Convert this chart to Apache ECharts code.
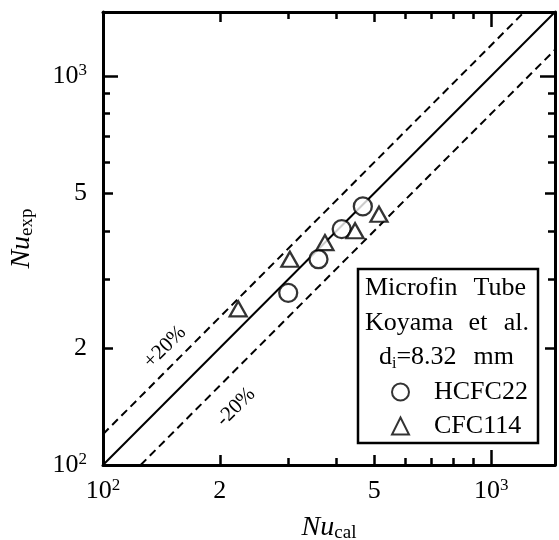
<!DOCTYPE html>
<html>
<head>
<meta charset="utf-8">
<script src="https://cdn.jsdelivr.net/npm/echarts@6/dist/echarts.min.js"></script>
<style>
  html, body { margin: 0; padding: 0; background: #fff; }
  #chart { width: 559px; height: 540px; }
</style>
</head>
<body>
<div id="chart"></div>
<script>
// Axis range (both axes share it, so the 1:1 line runs corner to corner)
const axisMin = 100;
const axisMax = 1460;

// Measured vs. calculated Nusselt numbers
const hcfc22Cal = [300, 359, 412, 467];
const hcfc22Exp = [277, 338, 404, 462];
const cfc114Cal = [223, 303, 373, 446, 514];
const cfc114Exp = [252, 338, 373, 400, 441];

// Tick layout on the log axes
const labelValues = [100, 200, 500, 1000];
const labelTexts = ['{b|10}{s|2}', '{b|2}', '{b|5}', '{b|10}{s|3}'];
const minorTicks = [100, 200, 300, 400, 500, 600, 700, 800, 900, 1000];
const midTicks = [200, 500];
const majorTicks = [100, 1000];

// Deviation bands around the 1:1 line
const bandRatios = [1.2, 0.8];
const bandTexts = ['+20%', '-20%'];

const FONT = 'Liberation Serif';

function pairs(xs, ys) { return xs.map((x, i) => [x, ys[i]]); }

function tickAxis(position, ticks, len, withLine, labelMargin) {
  const ax = {
    type: 'log',
    logBase: 10,
    min: axisMin,
    max: axisMax,
    position: position,
    splitLine: { show: false },
    axisLine: { show: withLine, onZero: false, lineStyle: { color: '#000', width: 3 } },
    axisTick: { show: true, inside: true, length: len, customValues: ticks,
                lineStyle: { color: '#000', width: 2.5 } },
    axisLabel: { show: false }
  };
  if (labelMargin) {
    ax.axisLabel = {
      show: true,
      customValues: labelValues,
      margin: labelMargin,
      color: '#000',
      fontFamily: FONT,
      formatter: v => labelTexts[labelValues.indexOf(Math.round(v))] || '',
      rich: {
        b: { fontFamily: FONT, fontSize: 26, color: '#000', lineHeight: 28 },
        s: { fontFamily: FONT, fontSize: 17, color: '#000', verticalAlign: 'top', lineHeight: 28 }
      }
    };
  }
  return ax;
}

const nameRich = {
  it: { fontFamily: FONT, fontStyle: 'italic', fontSize: 28, color: '#000', lineHeight: 30 },
  sub: { fontFamily: FONT, fontSize: 19, color: '#000', verticalAlign: 'bottom', lineHeight: 30 }
};

const xAxes = [
  Object.assign(tickAxis('bottom', minorTicks, 7, true, 12), {
    name: '{it|Nu}{sub|cal}',
    nameLocation: 'middle',
    nameGap: 48,
    nameTextStyle: { rich: nameRich }
  }),
  tickAxis('bottom', midTicks, 10, false, 0),
  tickAxis('bottom', majorTicks, 15, false, 0),
  tickAxis('top', minorTicks, 7, true, 0),
  tickAxis('top', midTicks, 10, false, 0),
  tickAxis('top', majorTicks, 15, false, 0)
];

const yAxes = [
  Object.assign(tickAxis('left', minorTicks, 7, true, 16), {
    name: '{it|Nu}{sub|exp}',
    nameLocation: 'middle',
    nameGap: 66,
    nameRotate: 90,
    nameTextStyle: { rich: nameRich }
  }),
  tickAxis('left', midTicks, 10, false, 0),
  tickAxis('left', majorTicks, 15, false, 0),
  tickAxis('right', minorTicks, 7, true, 0),
  tickAxis('right', midTicks, 10, false, 0),
  tickAxis('right', majorTicks, 15, false, 0)
];

const lineSeries = [{
  type: 'line',
  silent: true,
  showSymbol: false,
  data: [[axisMin, axisMin], [axisMax, axisMax]],
  lineStyle: { color: '#000', width: 2 },
  z: 2
}].concat(bandRatios.map(r => ({
  type: 'line',
  silent: true,
  showSymbol: false,
  data: r > 1 ? [[axisMin, axisMin * r], [axisMax / r, axisMax]]
              : [[axisMin / r, axisMin], [axisMax, axisMax * r]],
  lineStyle: { color: '#000', width: 2, type: [8, 5] },
  z: 2
})));

const markerStyle = { color: '#fff', borderColor: '#000', borderWidth: 2.3 };

const chart = echarts.init(document.getElementById('chart'), null, { renderer: 'canvas' });
chart.setOption({
  backgroundColor: '#fff',
  animation: false,
  grid: { left: 103, right: 4, top: 12, bottom: 75, containLabel: false, outerBoundsMode: 'none' },
  xAxis: xAxes,
  yAxis: yAxes,
  legend: {
    data: ['HCFC22', 'CFC114'],
    orient: 'vertical',
    left: 386,
    top: 374,
    itemWidth: 17,
    itemHeight: 17,
    itemGap: 8,
    selectedMode: false,
    textStyle: { fontFamily: FONT, fontSize: 26, color: '#000', lineHeight: 26, padding: [0, 0, 0, 20] },
    z: 20
  },
  series: lineSeries.concat([
    {
      name: 'HCFC22',
      type: 'scatter',
      symbol: 'circle',
      symbolSize: 18,
      itemStyle: markerStyle,
      data: pairs(hcfc22Cal, hcfc22Exp),
      z: 5
    },
    {
      name: 'CFC114',
      type: 'scatter',
      symbol: 'triangle',
      symbolSize: [17, 15],
      itemStyle: markerStyle,
      data: pairs(cfc114Cal, cfc114Exp),
      z: 5
    }
  ]),
  graphic: [
    {
      type: 'rect',
      shape: { x: 358, y: 269, width: 180, height: 174 },
      style: { fill: '#fff', stroke: '#000', lineWidth: 2.5 },
      z: 10
    },
    { type: 'text', x: 365, y: 288, z: 11,
      style: { text: 'Microfin', font: '26px "Liberation Serif"', fill: '#000', verticalAlign: 'middle' } },
    { type: 'text', x: 526, y: 288, z: 11,
      style: { text: 'Tube', font: '26px "Liberation Serif"', fill: '#000', align: 'right', verticalAlign: 'middle' } },
    { type: 'text', x: 365, y: 323, z: 11,
      style: { text: 'Koyama', font: '26px "Liberation Serif"', fill: '#000', verticalAlign: 'middle' } },
    { type: 'text', x: 478, y: 323, z: 11,
      style: { text: 'et', font: '26px "Liberation Serif"', fill: '#000', align: 'center', verticalAlign: 'middle' } },
    { type: 'text', x: 529, y: 323, z: 11,
      style: { text: 'al.', font: '26px "Liberation Serif"', fill: '#000', align: 'right', verticalAlign: 'middle' } },
    { type: 'text', x: 379, y: 357, z: 11,
      style: {
        text: '{d|d}{i|i}{d|=8.32}',
        verticalAlign: 'middle',
        rich: {
          d: { fontFamily: FONT, fontSize: 26, color: '#000', lineHeight: 30 },
          i: { fontFamily: FONT, fontSize: 16, color: '#000', verticalAlign: 'bottom', lineHeight: 30 }
        }
      } },
    { type: 'text', x: 514, y: 357, z: 11,
      style: { text: 'mm', font: '26px "Liberation Serif"', fill: '#000', align: 'right', verticalAlign: 'middle' } },
    { type: 'text', x: 165, y: 347, rotation: Math.PI / 4, z: 11,
      style: { text: bandTexts[0], font: '21px "Liberation Serif"', fill: '#000', align: 'center', verticalAlign: 'middle' } },
    { type: 'text', x: 236, y: 407, rotation: Math.PI / 4, z: 11,
      style: { text: bandTexts[1], font: '21px "Liberation Serif"', fill: '#000', align: 'center', verticalAlign: 'middle' } }
  ]
});
</script>
</body>
</html>
